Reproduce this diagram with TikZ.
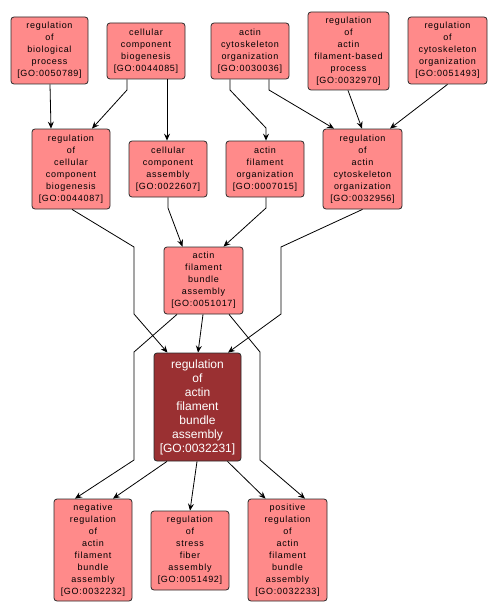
\documentclass[tikz,border=0pt]{standalone}
\usepackage{fontspec}
\setmainfont{Liberation Sans}
\newfontfamily\gosmall{Liberation Sans}[LetterSpace=8]
\usetikzlibrary{arrows.meta}
\definecolor{golight}{HTML}{FF8A8A}
\definecolor{godark}{HTML}{9A3032}
\definecolor{goborder}{HTML}{2A2A2A}
\tikzset{
  term/.style={draw=goborder, line width=0.8pt, fill=golight, rounded corners=3pt,
    align=center, inner sep=0pt, text=black,
    font=\gosmall\fontsize{9}{12}\selectfont},
  mainterm/.style={term, fill=godark, text=white, font=\fontsize{12}{14}\selectfont},
  e/.style={draw=black, line width=0.8pt, -{Stealth[length=7pt,width=6pt,inset=2.5pt]}}
}
\begin{document}
\begin{tikzpicture}[x=1pt,y=-1pt]
\useasboundingbox (0,0) rectangle (496,615);
% top row
\node[term, minimum width=77pt, minimum height=67pt] (A) at (49.5,50.5) {regulation\\of\\biological\\process\\{[}GO:0050789{]}};
\node[term, minimum width=78pt, minimum height=56pt] (B) at (146,51) {cellular\\component\\biogenesis\\{[}GO:0044085{]}};
\node[term, minimum width=78pt, minimum height=56pt] (C) at (250,51) {actin\\cytoskeleton\\organization\\{[}GO:0030036{]}};
\node[term, minimum width=81pt, minimum height=78pt] (D) at (348.5,51) {regulation\\of\\actin\\filament-based\\process\\{[}GO:0032970{]}};
\node[term, minimum width=79pt, minimum height=67pt] (E) at (447.5,50.5) {regulation\\of\\cytoskeleton\\organization\\{[}GO:0051493{]}};
% second row
\node[term, minimum width=78pt, minimum height=80pt] (F) at (71,169) {regulation\\of\\cellular\\component\\biogenesis\\{[}GO:0044087{]}};
\node[term, minimum width=78pt, minimum height=56pt] (G) at (168,169) {cellular\\component\\assembly\\{[}GO:0022607{]}};
\node[term, minimum width=78pt, minimum height=56pt] (H) at (265,169) {actin\\filament\\organization\\{[}GO:0007015{]}};
\node[term, minimum width=79pt, minimum height=80pt] (I) at (362.5,169) {regulation\\of\\actin\\cytoskeleton\\organization\\{[}GO:0032956{]}};
% third row
\node[term, minimum width=79pt, minimum height=67pt] (J) at (203.5,280.5) {actin\\filament\\bundle\\assembly\\{[}GO:0051017{]}};
% main
\node[mainterm, minimum width=87pt, minimum height=108pt] (K) at (197.5,407) {regulation\\of\\actin\\filament\\bundle\\assembly\\{[}GO:0032231{]}};
% bottom row
\node[term, minimum width=78pt, minimum height=102pt] (L) at (93,550) {negative\\regulation\\of\\actin\\filament\\bundle\\assembly\\{[}GO:0032232{]}};
\node[term, minimum width=78pt, minimum height=79pt] (M) at (190,550.5) {regulation\\of\\stress\\fiber\\assembly\\{[}GO:0051492{]}};
\node[term, minimum width=79pt, minimum height=102pt] (N) at (287.5,550) {positive\\regulation\\of\\actin\\filament\\bundle\\assembly\\{[}GO:0032233{]}};
% edges
\draw[e] ([xshift=0.5pt]A.south) -- ([xshift=-20pt]F.north);
\draw[e] ([xshift=-19pt]B.south) -- (127,90) -- ([xshift=21pt]F.north);
\draw[e] ([xshift=21pt]B.south) -- ([xshift=-1pt]G.north);
\draw[e] ([xshift=-20pt]C.south) -- (230,90) -- (266,128) -- ([xshift=1pt]H.north);
\draw[e] ([xshift=19pt]C.south) -- (269,90) -- ([xshift=-28.5pt]I.north);
\draw[e] ([xshift=-0.5pt]D.south) -- ([xshift=-0.5pt]I.north);
\draw[e] (E.south) -- ([xshift=27.5pt]I.north);
\draw[e] ([xshift=1pt]F.south) -- (134,247) -- (134,314) -- ([xshift=-30pt]K.north);
\draw[e] (G.south) -- (168,208) -- ([xshift=-21pt]J.north);
\draw[e] ([xshift=1pt]H.south) -- (266,208) -- ([xshift=20pt]J.north);
\draw[e] (I.south) -- (281,247) -- (281,314) -- ([xshift=30.5pt]K.north);
\draw[e] ([xshift=-0.5pt]J.south) -- ([xshift=0.5pt]K.north);
\draw[e] ([xshift=-26.5pt]J.south) -- (134,352) -- (134,460) -- ([xshift=-18pt]L.north);
\draw[e] ([xshift=25.5pt]J.south) -- (260,352) -- (260,460) -- ([xshift=17.5pt]N.north);
\draw[e] ([xshift=-30.5pt]K.south) -- ([xshift=20pt]L.north);
\draw[e] ([xshift=-0.5pt]K.south) -- (M.north);
\draw[e] ([xshift=30pt]K.south) -- ([xshift=-22pt]N.north);
\end{tikzpicture}
\end{document}
